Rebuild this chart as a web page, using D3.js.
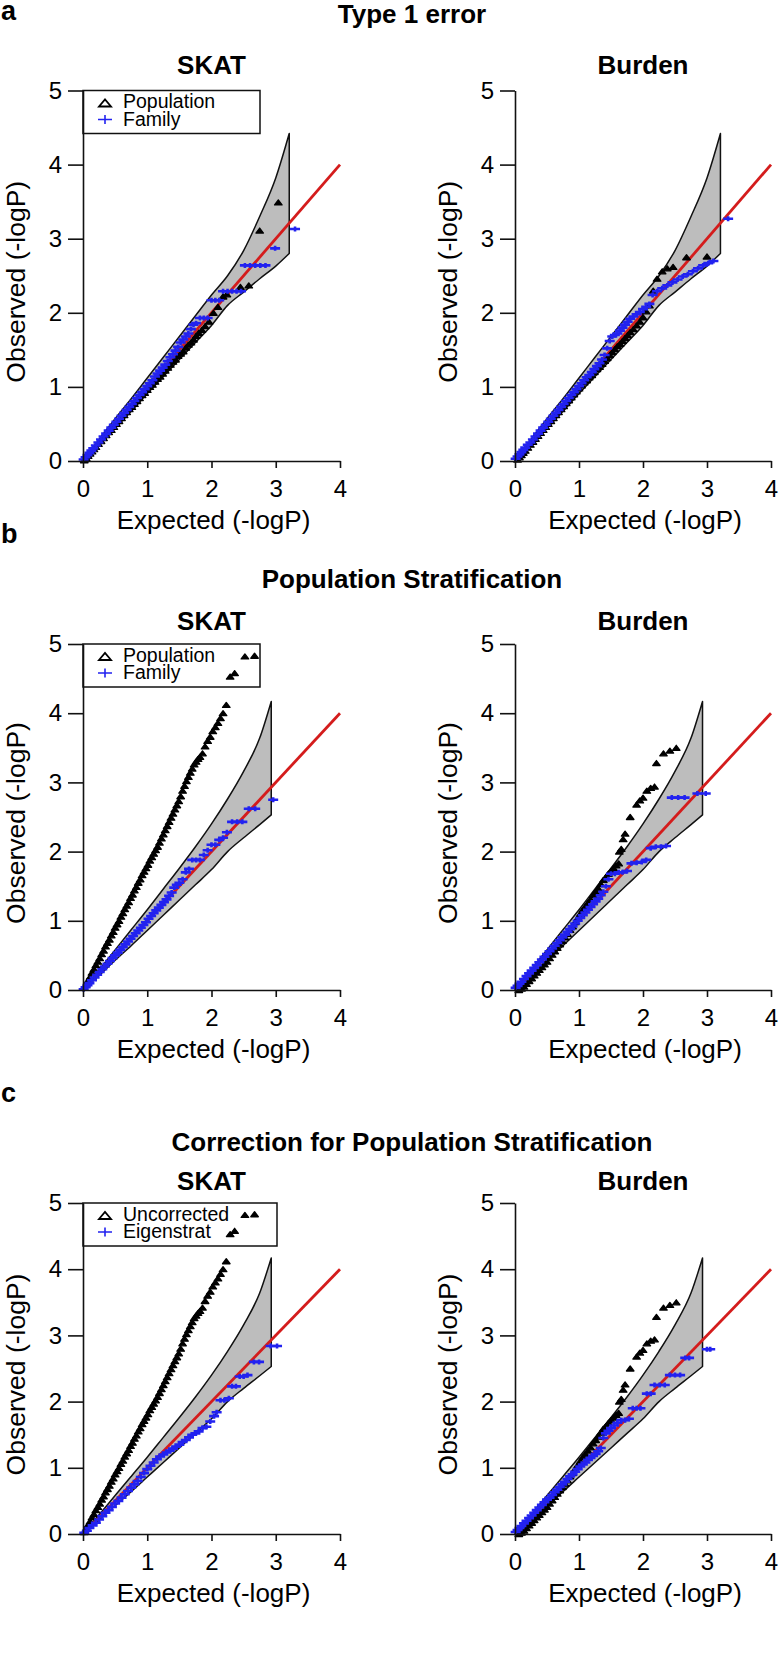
<!DOCTYPE html>
<html><head><meta charset="utf-8">
<script src="https://cdn.jsdelivr.net/npm/d3@7"></script>
<style>body{margin:0;background:#fff}svg{display:block}</style>
</head><body><svg id="c" width="779" height="1665"></svg>
<script>
// ---------- data (expected -logP, observed -logP) ----------
const xTicks = [0, 1, 2, 3, 4];
const yTicks = [0, 1, 2, 3, 4, 5];
const rowTitles = ["Type 1 error", "Population Stratification", "Correction for Population Stratification"];
const rowLetters = ["a", "b", "c"];
const colTitles = ["SKAT", "Burden"];
const legendA = ["Population", "Family"];
const legendB = ["Population", "Family"];
const legendC = ["Uncorrected", "Eigenstrat"];

// confidence band, panel a
const bandAx = [0, 0.25, 0.5, 0.75, 1.0, 1.25, 1.5, 1.75, 2.0, 2.25, 2.5, 2.75, 3.0, 3.21];
const bandAup = [0, 0.29, 0.57, 0.84, 1.12, 1.4, 1.68, 1.96, 2.24, 2.5, 2.84, 3.3, 3.82, 4.42];
const bandAlo = [0, 0.21, 0.44, 0.67, 0.91, 1.14, 1.37, 1.6, 1.83, 2.1, 2.28, 2.46, 2.63, 2.80];
// confidence band, panels b and c
const bandBx = [0, 0.25, 0.5, 0.75, 1.0, 1.25, 1.5, 1.75, 2.0, 2.25, 2.5, 2.75, 2.93];
const bandBup = [0, 0.29, 0.58, 0.87, 1.16, 1.46, 1.76, 2.07, 2.4, 2.76, 3.16, 3.64, 4.17];
const bandBlo = [0, 0.21, 0.43, 0.64, 0.86, 1.08, 1.3, 1.52, 1.74, 2.0, 2.2, 2.39, 2.53];

const aSkatPop = [[0.02,0.01],[0.05,0.04],[0.08,0.07],[0.11,0.1],[0.14,0.13],[0.17,0.16],[0.2,0.19],[0.24,0.23],[0.28,0.27],[0.32,0.31],[0.36,0.35],[0.4,0.39],[0.44,0.42],[0.48,0.46],[0.52,0.5],[0.56,0.54],[0.6,0.58],[0.64,0.62],[0.68,0.66],[0.72,0.7],[0.76,0.73],[0.8,0.77],[0.84,0.81],[0.88,0.85],[0.92,0.89],[0.96,0.92],[1.0,0.96],[1.04,1.0],[1.08,1.03],[1.12,1.07],[1.16,1.11],[1.2,1.14],[1.24,1.18],[1.28,1.22],[1.32,1.26],[1.36,1.3],[1.4,1.34],[1.44,1.37],[1.48,1.42],[1.52,1.45],[1.56,1.48],[1.6,1.53],[1.64,1.57],[1.68,1.6],[1.72,1.64],[1.76,1.69],[1.8,1.73],[1.85,1.77],[1.9,1.82],[1.96,1.88],[2.03,2.0],[2.1,2.08],[2.18,2.22],[2.24,2.25],[2.45,2.35],[2.58,2.37],[2.75,3.11],[3.04,3.49]];
const aSkatFam = [[0.01,0.02],[0.04,0.05],[0.07,0.08],[0.1,0.11],[0.13,0.14],[0.16,0.17],[0.2,0.21],[0.24,0.25],[0.28,0.29],[0.32,0.33],[0.36,0.37],[0.4,0.41],[0.44,0.45],[0.48,0.49],[0.52,0.53],[0.56,0.57],[0.6,0.61],[0.64,0.65],[0.68,0.69],[0.72,0.73],[0.76,0.77],[0.8,0.81],[0.84,0.85],[0.88,0.89],[0.92,0.93],[0.96,0.97],[1.0,1.01],[1.04,1.05],[1.08,1.09],[1.12,1.14],[1.16,1.18],[1.2,1.22],[1.24,1.26],[1.28,1.3],[1.32,1.35],[1.36,1.4],[1.4,1.44],[1.44,1.49],[1.48,1.54],[1.52,1.6],[1.56,1.64],[1.6,1.68],[1.64,1.72],[1.68,1.78],[1.72,1.84],[1.76,1.86],[1.82,1.93],[1.88,1.93],[1.94,1.93],[2.0,2.17],[2.06,2.17],[2.12,2.17],[2.18,2.29],[2.25,2.29],[2.32,2.29],[2.39,2.29],[2.46,2.29],[2.52,2.64],[2.6,2.64],[2.68,2.64],[2.76,2.64],[2.84,2.64],[2.99,2.87],[3.3,3.13]];
const aBurdenPop = [[0.04,0.02],[0.07,0.05],[0.1,0.08],[0.13,0.11],[0.16,0.14],[0.2,0.18],[0.24,0.22],[0.28,0.26],[0.32,0.3],[0.36,0.34],[0.4,0.38],[0.44,0.42],[0.48,0.46],[0.52,0.5],[0.56,0.54],[0.6,0.58],[0.64,0.62],[0.68,0.66],[0.72,0.7],[0.76,0.74],[0.8,0.78],[0.84,0.82],[0.88,0.86],[0.92,0.9],[0.96,0.94],[1.0,0.98],[1.04,1.02],[1.08,1.06],[1.12,1.09],[1.16,1.13],[1.2,1.16],[1.24,1.2],[1.28,1.24],[1.32,1.27],[1.36,1.31],[1.4,1.35],[1.44,1.39],[1.48,1.43],[1.52,1.47],[1.56,1.51],[1.6,1.55],[1.64,1.58],[1.68,1.62],[1.72,1.66],[1.76,1.7],[1.8,1.74],[1.85,1.78],[1.9,1.83],[1.95,1.88],[2.0,1.94],[2.05,2.02],[2.1,2.1],[2.16,2.3],[2.22,2.46],[2.3,2.56],[2.38,2.6],[2.47,2.62],[2.68,2.75],[3.0,2.76]];
const aBurdenFam = [[0.01,0.03],[0.04,0.06],[0.07,0.09],[0.1,0.12],[0.13,0.15],[0.16,0.18],[0.2,0.22],[0.24,0.25],[0.28,0.29],[0.32,0.33],[0.36,0.37],[0.4,0.41],[0.44,0.45],[0.48,0.49],[0.52,0.53],[0.56,0.57],[0.6,0.61],[0.64,0.65],[0.68,0.69],[0.72,0.73],[0.76,0.77],[0.8,0.81],[0.84,0.85],[0.88,0.89],[0.92,0.93],[0.96,0.97],[1.0,1.01],[1.04,1.05],[1.08,1.09],[1.12,1.13],[1.16,1.16],[1.2,1.2],[1.24,1.24],[1.28,1.28],[1.32,1.32],[1.36,1.37],[1.4,1.43],[1.44,1.52],[1.48,1.62],[1.52,1.68],[1.56,1.7],[1.6,1.72],[1.64,1.76],[1.68,1.8],[1.72,1.84],[1.76,1.88],[1.8,1.92],[1.85,1.95],[1.9,1.98],[1.95,2.01],[2.0,2.05],[2.05,2.08],[2.1,2.12],[2.15,2.24],[2.22,2.29],[2.3,2.33],[2.38,2.37],[2.46,2.41],[2.54,2.45],[2.62,2.49],[2.7,2.52],[2.78,2.56],[2.86,2.6],[2.94,2.64],[3.02,2.67],[3.1,2.7],[3.33,3.27]];

// uncorrected SKAT results under population stratification (panels b and c)
const skatStrat = [[0.02,0.03],[0.05,0.08],[0.08,0.14],[0.11,0.19],[0.14,0.25],[0.17,0.3],[0.2,0.36],[0.23,0.41],[0.26,0.46],[0.29,0.52],[0.32,0.57],[0.35,0.63],[0.38,0.68],[0.41,0.73],[0.44,0.79],[0.47,0.84],[0.5,0.9],[0.53,0.95],[0.56,1.0],[0.59,1.06],[0.62,1.11],[0.65,1.17],[0.68,1.22],[0.71,1.27],[0.74,1.33],[0.77,1.38],[0.8,1.44],[0.83,1.49],[0.86,1.55],[0.89,1.6],[0.92,1.66],[0.95,1.71],[0.98,1.76],[1.01,1.81],[1.04,1.87],[1.07,1.92],[1.1,1.97],[1.13,2.02],[1.16,2.07],[1.19,2.13],[1.22,2.19],[1.25,2.25],[1.28,2.31],[1.31,2.37],[1.34,2.43],[1.37,2.49],[1.4,2.55],[1.43,2.61],[1.46,2.67],[1.49,2.73],[1.52,2.8],[1.55,2.88],[1.58,2.95],[1.61,3.02],[1.64,3.08],[1.67,3.14],[1.7,3.2],[1.73,3.26],[1.76,3.3],[1.79,3.34],[1.82,3.37],[1.86,3.42],[1.9,3.52],[1.94,3.6],[1.98,3.66],[2.02,3.74],[2.06,3.8],[2.1,3.86],[2.14,3.93],[2.18,4.0],[2.23,4.12],[2.29,4.53],[2.36,4.58],[2.52,4.82],[2.67,4.83]];
const bSkatFam = [[0.01,0.01],[0.04,0.04],[0.07,0.07],[0.1,0.1],[0.14,0.14],[0.18,0.18],[0.22,0.22],[0.26,0.26],[0.3,0.3],[0.34,0.34],[0.38,0.38],[0.42,0.42],[0.46,0.46],[0.5,0.5],[0.54,0.54],[0.58,0.58],[0.62,0.62],[0.66,0.66],[0.7,0.7],[0.74,0.74],[0.78,0.78],[0.82,0.82],[0.86,0.86],[0.9,0.9],[0.94,0.94],[0.98,0.98],[1.02,1.03],[1.06,1.07],[1.1,1.11],[1.14,1.15],[1.18,1.19],[1.22,1.23],[1.26,1.27],[1.3,1.31],[1.34,1.36],[1.38,1.41],[1.42,1.48],[1.46,1.52],[1.5,1.55],[1.55,1.6],[1.6,1.7],[1.65,1.75],[1.7,1.88],[1.76,1.88],[1.82,1.88],[1.88,1.95],[1.94,2.02],[2.0,2.1],[2.06,2.1],[2.12,2.17],[2.18,2.2],[2.24,2.28],[2.32,2.43],[2.4,2.43],[2.48,2.43],[2.58,2.62],[2.68,2.62],[2.96,2.75]];
// uncorrected Burden results under population stratification (panels b and c)
const burdenStrat = [[0.06,0.0],[0.1,0.02],[0.14,0.05],[0.18,0.09],[0.22,0.13],[0.26,0.17],[0.3,0.21],[0.34,0.25],[0.38,0.29],[0.42,0.33],[0.46,0.37],[0.5,0.41],[0.54,0.46],[0.58,0.51],[0.62,0.56],[0.66,0.61],[0.7,0.66],[0.74,0.71],[0.78,0.76],[0.82,0.81],[0.86,0.87],[0.9,0.92],[0.94,0.98],[0.98,1.04],[1.02,1.1],[1.06,1.16],[1.1,1.21],[1.14,1.26],[1.18,1.31],[1.22,1.37],[1.26,1.42],[1.3,1.47],[1.34,1.53],[1.38,1.59],[1.42,1.63],[1.46,1.68],[1.5,1.72],[1.54,1.76],[1.58,1.8],[1.62,1.83],[1.63,2.0],[1.66,2.04],[1.69,2.18],[1.72,2.26],[1.8,2.5],[1.9,2.68],[1.95,2.74],[2.0,2.78],[2.06,2.88],[2.12,2.92],[2.18,2.94],[2.21,3.28],[2.32,3.42],[2.42,3.46],[2.52,3.5]];
const bBurdenFam = [[0.01,0.03],[0.04,0.06],[0.07,0.09],[0.1,0.12],[0.14,0.16],[0.18,0.2],[0.22,0.24],[0.26,0.28],[0.3,0.32],[0.34,0.36],[0.38,0.4],[0.42,0.44],[0.46,0.48],[0.5,0.52],[0.54,0.56],[0.58,0.6],[0.62,0.64],[0.66,0.68],[0.7,0.72],[0.74,0.76],[0.78,0.8],[0.82,0.84],[0.86,0.88],[0.9,0.92],[0.94,0.96],[0.98,1.0],[1.02,1.04],[1.06,1.08],[1.1,1.12],[1.14,1.16],[1.18,1.2],[1.22,1.24],[1.26,1.28],[1.3,1.32],[1.34,1.37],[1.38,1.42],[1.42,1.5],[1.46,1.6],[1.5,1.68],[1.56,1.68],[1.62,1.7],[1.68,1.7],[1.75,1.72],[1.82,1.83],[1.9,1.84],[1.98,1.85],[2.05,1.88],[2.12,2.05],[2.2,2.07],[2.28,2.07],[2.36,2.08],[2.45,2.78],[2.55,2.78],[2.65,2.78],[2.85,2.84],[2.98,2.84]];
const cSkatEigen = [[0.02,0.02],[0.06,0.05],[0.1,0.09],[0.15,0.13],[0.2,0.17],[0.25,0.22],[0.3,0.27],[0.35,0.32],[0.4,0.36],[0.45,0.41],[0.5,0.46],[0.55,0.5],[0.6,0.55],[0.65,0.6],[0.7,0.65],[0.75,0.7],[0.8,0.75],[0.85,0.8],[0.9,0.86],[0.95,0.92],[1.0,0.98],[1.05,1.03],[1.1,1.08],[1.15,1.13],[1.2,1.17],[1.25,1.2],[1.3,1.23],[1.35,1.26],[1.4,1.29],[1.45,1.32],[1.5,1.35],[1.55,1.39],[1.6,1.42],[1.65,1.46],[1.7,1.5],[1.75,1.52],[1.8,1.55],[1.86,1.6],[1.92,1.62],[1.98,1.7],[2.04,1.78],[2.08,1.84],[2.14,2.02],[2.2,2.02],[2.27,2.05],[2.32,2.23],[2.38,2.23],[2.44,2.38],[2.5,2.38],[2.56,2.4],[2.66,2.6],[2.74,2.6],[2.92,2.84],[3.02,2.84]];
const cBurdenEigen = [[0.01,0.03],[0.04,0.06],[0.07,0.09],[0.1,0.12],[0.14,0.16],[0.18,0.2],[0.22,0.24],[0.26,0.28],[0.3,0.32],[0.34,0.36],[0.38,0.4],[0.42,0.44],[0.46,0.48],[0.5,0.52],[0.54,0.55],[0.58,0.59],[0.62,0.63],[0.66,0.67],[0.7,0.71],[0.74,0.75],[0.78,0.79],[0.82,0.83],[0.86,0.87],[0.9,0.9],[0.94,0.94],[0.98,0.98],[1.02,1.02],[1.06,1.05],[1.1,1.08],[1.14,1.12],[1.18,1.15],[1.22,1.18],[1.26,1.21],[1.3,1.25],[1.34,1.3],[1.38,1.45],[1.42,1.52],[1.46,1.56],[1.5,1.6],[1.55,1.64],[1.6,1.68],[1.66,1.72],[1.72,1.72],[1.78,1.74],[1.84,1.9],[1.9,1.9],[1.96,1.9],[2.06,2.12],[2.12,2.12],[2.18,2.25],[2.26,2.25],[2.34,2.25],[2.42,2.4],[2.5,2.4],[2.58,2.4],[2.66,2.66],[2.72,2.66],[3.0,2.79],[3.05,2.79]];

// ---------- layout ----------
const FONT = "'Liberation Sans', Arial, Helvetica, sans-serif";
const cols = [{x0: 83, x4: 340}, {x0: 515, x4: 771}];
const rows = [
  {letterY: 20, titleY: 23, subY: 74, y5: 90.5, y0: 461, legW: 177, legend: legendA,
   band: [bandAx, bandAup, bandAlo], series: [[aSkatPop, aSkatFam], [aBurdenPop, aBurdenFam]]},
  {letterY: 543, titleY: 588, subY: 630, y5: 644, y0: 990, legW: 177, legend: legendB,
   band: [bandBx, bandBup, bandBlo], series: [[skatStrat, bSkatFam], [burdenStrat, bBurdenFam]]},
  {letterY: 1102, titleY: 1151, subY: 1190, y5: 1203, y0: 1534, legW: 194, legend: legendC,
   band: [bandBx, bandBup, bandBlo], series: [[skatStrat, cSkatEigen], [burdenStrat, cBurdenEigen]]}
];
const BLUE = "#2222f0", RED = "#d41c1c";

const svg = d3.select("#c");

function tri(cx, cy, w, h) {
  return `M${cx - w / 2},${cy + h / 2}L${cx},${cy - h / 2}L${cx + w / 2},${cy + h / 2}Z`;
}
function plus(cx, cy, w, h) {
  return `M${cx - w / 2},${cy}H${cx + w / 2}M${cx},${cy - h / 2}V${cy + h / 2}`;
}

rows.forEach((row, ri) => {
  svg.append("text").attr("x", 1).attr("y", row.letterY).text(rowLetters[ri])
    .attr("font-family", FONT).attr("font-weight", "bold").attr("font-size", 27);
  svg.append("text").attr("x", 412).attr("y", row.titleY).attr("text-anchor", "middle").text(rowTitles[ri])
    .attr("font-family", FONT).attr("font-weight", "bold").attr("font-size", 26);

  cols.forEach((col, ci) => {
    const x = d3.scaleLinear().domain([0, 4]).range([col.x0, col.x4]);
    const y = d3.scaleLinear().domain([0, 5]).range([row.y0, row.y5]);
    const g = svg.append("g");

    g.append("text").attr("x", (col.x0 + col.x4) / 2).attr("y", row.subY).attr("text-anchor", "middle")
      .text(colTitles[ci]).attr("font-family", FONT).attr("font-weight", "bold").attr("font-size", 26);

    // confidence band
    const [bx, bu, bl] = row.band;
    const bd = bx.map((v, i) => ({x: v, up: bu[i], lo: bl[i]}));
    g.append("path").datum(bd)
      .attr("d", d3.area().x(d => x(d.x)).y0(d => y(d.lo)).y1(d => y(d.up)).curve(d3.curveMonotoneX))
      .attr("fill", "#bdbdbd").attr("stroke", "#111").attr("stroke-width", 1.5).attr("stroke-linejoin", "round");

    // identity line
    g.append("line").attr("x1", x(0)).attr("y1", y(0)).attr("x2", x(4)).attr("y2", y(4))
      .attr("stroke", RED).attr("stroke-width", 2.8);

    const [blk, blu] = row.series[ci];
    g.append("g").selectAll("path").data(blk).join("path")
      .attr("d", d => tri(x(d[0]), y(d[1]), 7.5, 5))
      .attr("fill", "#000").attr("stroke", "#000").attr("stroke-width", 1.3).attr("stroke-linejoin", "round");
    g.append("g").selectAll("path").data(blu).join("path")
      .attr("d", d => plus(x(d[0]), y(d[1]), 10, 5))
      .attr("fill", "none").attr("stroke", BLUE).attr("stroke-width", 2.6);

    // axes
    const ax = g.append("g").attr("transform", `translate(0,${row.y0})`)
      .call(d3.axisBottom(x).tickValues(xTicks).tickSize(7).tickSizeOuter(0).tickPadding(12).tickFormat(d3.format("d")));
    const ay = g.append("g").attr("transform", `translate(${col.x0},0)`)
      .call(d3.axisLeft(y).tickValues(yTicks).tickSize(15).tickSizeOuter(0).tickPadding(6).tickFormat(d3.format("d")));
    [ax, ay].forEach(a => {
      a.attr("font-size", 24).attr("font-family", FONT);
      a.selectAll("path,line").attr("stroke", "#111").attr("stroke-width", 1.6);
      a.selectAll("text").attr("fill", "#000");
    });

    g.append("text").attr("x", (col.x0 + col.x4) / 2 + 2).attr("y", row.y0 + 68).attr("text-anchor", "middle")
      .text("Expected (-logP)").attr("font-family", FONT).attr("font-size", 26);
    g.append("text").attr("transform", `translate(${col.x0 - 58},${(row.y0 + row.y5) / 2 + 6}) rotate(-90)`)
      .attr("text-anchor", "middle").text("Observed (-logP)").attr("font-family", FONT).attr("font-size", 26.5);

    // legend (SKAT panels)
    if (ci === 0) {
      const lg = g.append("g");
      lg.append("rect").attr("x", col.x0).attr("y", row.y5).attr("width", row.legW).attr("height", 43)
        .attr("fill", "none").attr("stroke", "#111").attr("stroke-width", 1.5);
      const t1 = row.y5 + 17.5, t2 = row.y5 + 35;
      lg.append("path").attr("d", tri(col.x0 + 22, t1 - 5, 12, 7)).attr("fill", "none")
        .attr("stroke", "#000").attr("stroke-width", 1.8);
      lg.append("path").attr("d", plus(col.x0 + 22, t2 - 6, 14, 9)).attr("fill", "none")
        .attr("stroke", BLUE).attr("stroke-width", 1.6);
      row.legend.forEach((lab, i) => {
        lg.append("text").attr("x", col.x0 + 40).attr("y", i ? t2 : t1).text(lab)
          .attr("font-family", FONT).attr("font-size", 19.5);
      });
    }
  });
});
</script></body></html>
